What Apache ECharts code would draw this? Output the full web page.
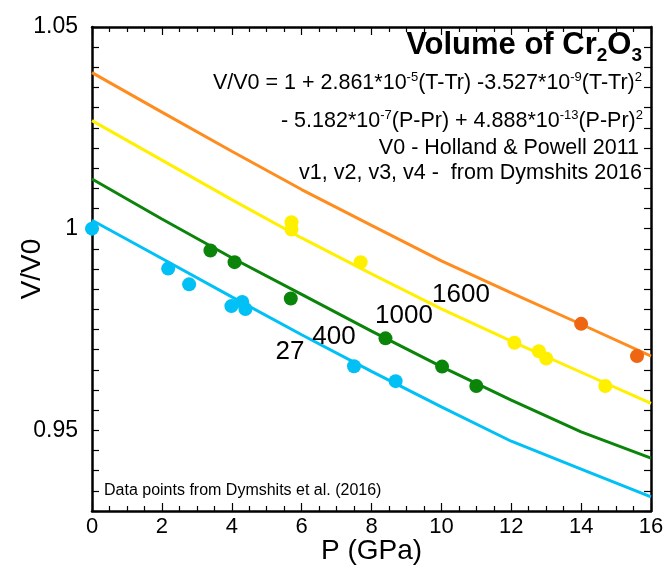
<!DOCTYPE html>
<html>
<head>
<meta charset="utf-8">
<script src="https://cdn.jsdelivr.net/npm/echarts@6/dist/echarts.min.js"></script>
<style>
  html, body { margin: 0; background: #fff; }
  #chart { width: 666px; height: 569px; }
</style>
</head>
<body>
<div id="chart"></div>
<script>
// pressure grid for the model curves (GPa)
const pressure = [0, 2, 4, 6, 8, 10, 12, 14, 16];
// model V/V0 curves, one per temperature
const curve27 = [1.0021, 0.9926, 0.9831, 0.9737, 0.9646, 0.9558, 0.9473, 0.9404, 0.9335];
const curve400 = [1.0123, 1.0024, 0.9928, 0.9837, 0.9746, 0.9658, 0.9575, 0.9496, 0.9431];
const curve1000 = [1.0268, 1.0170, 1.0072, 0.9977, 0.9888, 0.9801, 0.9721, 0.9644, 0.9567];
const curve1600 = [1.0387, 1.0289, 1.0192, 1.0097, 1.0008, 0.9920, 0.9841, 0.9763, 0.9684];

// measured points [P, V/V0] (Dymshits et al. 2016)
const points27 = [[0, 1.0000], [2.18, 0.9901], [2.78, 0.9862], [3.99, 0.9808], [4.30, 0.9818], [4.39, 0.9801], [7.50, 0.9659], [8.69, 0.9622]];
const points400 = [[3.39, 0.9946], [4.08, 0.9917], [5.69, 0.9827], [8.40, 0.9728], [10.02, 0.9658], [11.0, 0.9610]];
const points1000 = [[5.71, 1.0016], [5.71, 0.9998], [7.69, 0.9917], [12.09, 0.9717], [12.79, 0.9696], [13.0, 0.9678], [14.69, 0.9610]];
const points1600 = [[14.0, 0.9764], [15.6, 0.9684]];

const yLabels = [0.95, 1, 1.05];

const FONT = 'Liberation Sans, Arial, Helvetica, sans-serif';
const BLUE = '#00c0f5', GREEN = '#0a850a', YELLOW = '#fff000', ORANGE = '#ff8c1e', ORANGE_PT = '#ee6612';

const chart = echarts.init(document.getElementById('chart'));

const tickStyle = { color: '#000', width: 1.2 };
const axisLineStyle = { color: '#000', width: 2.5 };

function xAxisDef(pos, withLabels) {
  return {
    type: 'value', min: 0, max: 16, interval: 2, position: pos,
    axisLine: { show: true, onZero: false, lineStyle: axisLineStyle },
    axisTick: { show: true, inside: true, length: 8, lineStyle: tickStyle },
    minorTick: { show: true, splitNumber: 4, length: 5, lineStyle: tickStyle },
    splitLine: { show: false },
    axisLabel: { show: withLabels, color: '#000', fontSize: 22, fontFamily: FONT, margin: 5 },
    name: withLabels ? 'P (GPa)' : '',
    nameLocation: 'middle',
    nameGap: 26,
    nameMoveOverlap: false,
    nameTextStyle: { color: '#000', fontSize: 28, fontFamily: FONT }
  };
}

function yAxisDef(pos, withLabels) {
  return {
    type: 'value', min: 0.93, max: 1.05, interval: 0.005, position: pos,
    axisLine: { show: true, onZero: false, lineStyle: axisLineStyle },
    axisTick: { show: true, inside: true, length: 7, lineStyle: tickStyle },
    splitLine: { show: false },
    axisLabel: {
      show: withLabels, color: '#000', fontSize: 23, fontFamily: FONT, margin: 14,
      formatter: v => yLabels.some(l => Math.abs(l - v) < 1e-6) ? String(Math.round(v * 100) / 100) : ''
    },
    name: withLabels ? 'V/V0' : '',
    nameLocation: 'middle',
    nameGap: 46,
    nameMoveOverlap: false,
    nameTextStyle: { color: '#000', fontSize: 28, fontFamily: FONT }
  };
}

function curve(vals, color) {
  return {
    type: 'line', xAxisIndex: 0, yAxisIndex: 0,
    data: pressure.map((p, i) => [p, vals[i]]),
    showSymbol: false, silent: true, z: 2,
    lineStyle: { color: color, width: 3 }
  };
}

function dots(pts, color) {
  return {
    type: 'scatter', xAxisIndex: 0, yAxisIndex: 0,
    data: pts, symbolSize: 14, z: 3,
    itemStyle: { color: color, opacity: 1 }
  };
}

const sup = { fontSize: 13, lineHeight: 13, verticalAlign: 'top', fontFamily: FONT, fill: '#000' };
const norm = { fontSize: 21.5, lineHeight: 25, fontFamily: FONT, fill: '#000' };

function note(text, x, y, rich) {
  return {
    type: 'text', x: x, y: y, z: 10, silent: true,
    style: {
      text: text, fill: '#000', font: '21px ' + FONT,
      align: 'right', textAlign: 'right', verticalAlign: 'middle', textVerticalAlign: 'middle',
      rich: rich
    }
  };
}

function label(text, x, y) {
  return {
    type: 'text', x: x, y: y, z: 10, silent: true,
    style: {
      text: text, fill: '#000', font: '26px ' + FONT,
      align: 'center', textAlign: 'center', verticalAlign: 'middle', textVerticalAlign: 'middle'
    }
  };
}

chart.setOption({
  animation: false,
  backgroundColor: '#fff',
  grid: { left: 92, right: 15, top: 27, bottom: 58, containLabel: false, outerBoundsMode: 'none' },
  xAxis: [xAxisDef('bottom', true), xAxisDef('top', false)],
  yAxis: [yAxisDef('left', true), yAxisDef('right', false)],
  series: [
    curve(curve27, BLUE), curve(curve400, GREEN), curve(curve1000, YELLOW), curve(curve1600, ORANGE),
    dots(points27, BLUE), dots(points400, GREEN), dots(points1000, YELLOW), dots(points1600, ORANGE_PT)
  ],
  graphic: [
    note('{t|Volume of Cr}{u|2}{t|O}{u|3}', 642, 45, {
      t: { fontSize: 31, fontWeight: 'bold', lineHeight: 40, fontFamily: FONT, fill: '#000' },
      u: { fontSize: 19, fontWeight: 'bold', lineHeight: 18, verticalAlign: 'bottom', fontFamily: FONT, fill: '#000' }
    }),
    note('{n|V/V0 = 1 + 2.861*10}{s|-5}{n|(T-Tr) -3.527*10}{s|-9}{n|(T-Tr)}{s|2}', 642, 83, { n: norm, s: sup }),
    note('{n|- 5.182*10}{s|-7}{n|(P-Pr) + 4.888*10}{s|-13}{n|(P-Pr)}{s|2}', 643, 121, { n: norm, s: sup }),
    note('{n|V0 - Holland & Powell 2011}', 639, 148, { n: norm }),
    note('{n|v1, v2, v3, v4 -  from Dymshits 2016}', 642, 173, { n: norm }),
    {
      type: 'text', x: 104, y: 491, z: 10, silent: true,
      style: {
        text: 'Data points from Dymshits et al. (2016)', fill: '#000', font: '16px ' + FONT,
        align: 'left', textAlign: 'left', verticalAlign: 'middle', textVerticalAlign: 'middle'
      }
    },
    label('27', 290, 352),
    label('400', 334, 337),
    label('1000', 404, 316),
    label('1600', 461, 295)
  ]
});
</script>
</body>
</html>
